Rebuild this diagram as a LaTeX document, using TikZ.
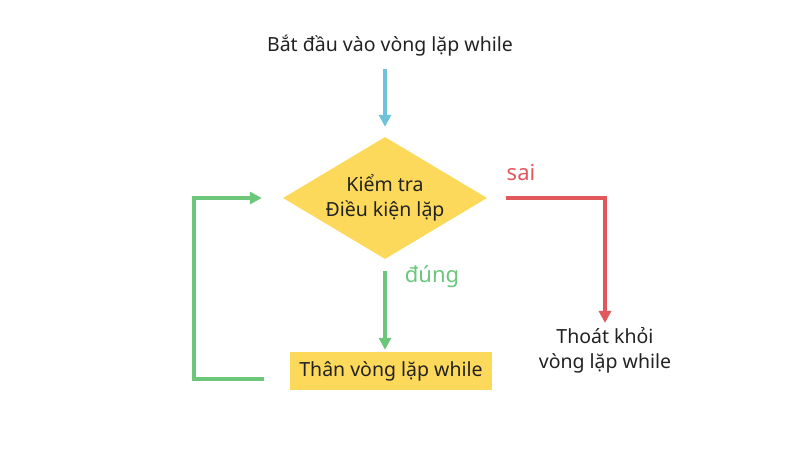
\documentclass[tikz,border=0pt]{standalone}
\usepackage{fontspec}
\setmainfont{Noto Sans}
\usetikzlibrary{shapes.geometric, arrows.meta, positioning}
\definecolor{cyl}{HTML}{FDD95B}
\definecolor{cbl}{HTML}{6EC3DA}
\definecolor{cgr}{HTML}{6CC77B}
\definecolor{crd}{HTML}{E0585C}
\definecolor{ctx}{HTML}{222222}
\tikzstyle{txt}=[text=ctx, font=\fontsize{19.5}{25}\selectfont, align=center, inner sep=0]
\tikzstyle{dm}=[txt, diamond, aspect=1.67, fill=cyl, minimum width=204pt, minimum height=122pt]
\tikzstyle{bx}=[txt, rectangle, fill=cyl, minimum width=202pt, minimum height=38pt]
\tikzstyle{ar}=[line width=3.5pt, -{Triangle[length=12pt, width=12pt]}]
\tikzstyle{lb}=[font=\fontsize{22}{24}\selectfont, inner sep=0]

\begin{document}
\begin{tikzpicture}[x=1pt, y=-1pt]
    \useasboundingbox (0,0) rectangle (800,450);
    % nodes
    \node[txt] (start) at (390,46) {Bắt đầu vào vòng lặp while};
    \node[dm] (chk) at (385,198) {Kiểm tra\\Điều kiện lặp};
    \node[bx] (body) at (391,371) {Thân vòng lặp while};
    \node[txt] (exit) at (605,350) {Thoát khỏi\\vòng lặp while};
    \coordinate (lp) at (194,198);
    % connectors
    \draw[ar, cbl, shorten <=12pt, shorten >=10pt] (chk.north |- start.south) -- (chk.north);
    \draw[ar, cgr, shorten <=12pt, shorten >=2pt] (chk.south) -- (chk.south |- body.north);
    \draw[ar, cgr, shorten <=26pt, shorten >=21pt] ([yshift=-8pt]body.west) -| (lp) -- (chk.west);
    \draw[ar, crd, shorten <=19pt, shorten >=4pt] (chk.east) -| (exit.north);
    % labels
    \node[lb, text=crd] (no) at (521,172) {sai};
    \node[lb, text=cgr] (yes) at (432,277) {đúng};
\end{tikzpicture}
\end{document}
